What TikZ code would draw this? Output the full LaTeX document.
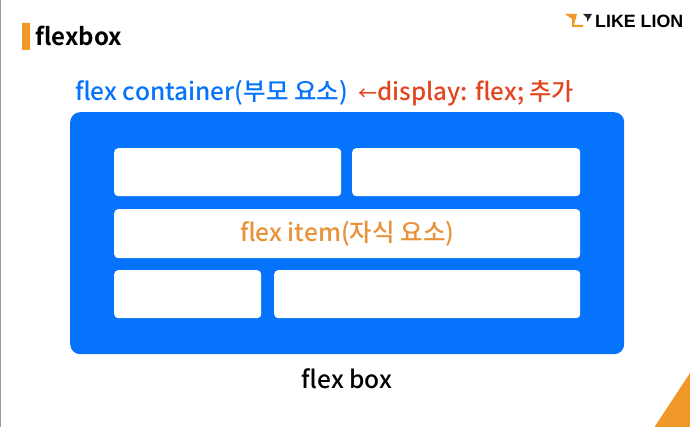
\documentclass[tikz,border=0pt]{standalone}
\usepackage{fontspec}
\setmainfont{Noto Sans CJK KR}[BoldFont={Noto Sans CJK KR Bold}]
\setsansfont{Liberation Sans}
\newfontfamily\mediumfont{Noto Sans CJK KR Medium}
\definecolor{flexblue}{HTML}{0573FC}
\definecolor{flexorange}{HTML}{F0982A}
\definecolor{flexred}{HTML}{E2451F}
\definecolor{itemorange}{HTML}{E8933A}
\tikzset{
  itembox/.style={shape=rectangle,rounded corners=4pt,fill=white,inner sep=0pt,anchor=north west},
  caption/.style={inner sep=0pt,font=\fontsize{24.5}{24.5}\selectfont\mediumfont,anchor=base west}
}
\begin{document}
\begin{tikzpicture}[x=1pt,y=-1pt]
  \useasboundingbox (0,0) rectangle (690,427);
  \fill[gray!80] (0,0) rectangle (1,427);
  \fill[flexorange,rounded corners=0.5pt] (22,23) rectangle (30,50);
  \node[caption,font=\fontsize{24}{24}\selectfont\bfseries] (title) at (35,45.5) {flexbox};
  % logo
  \fill[flexorange] (565,14) -- (577,14) -- (574,25) -- (583,25) -- (583,27) -- (572,27) -- (572,19) -- cycle;
  \fill[black!85] (583,14) -- (592,14) -- (587,22) -- (587,18) -- cycle;
  \node[caption,font=\fontsize{17.8}{18}\selectfont\sffamily\bfseries] (logo) at (595,28) {LIKE LION};
  % labels over the container
  \node[caption,text=flexblue] (parent) at (75,101) {flex container(부모 요소)};
  \node[caption,text=flexred,font=\fontsize{24.2}{24.2}\selectfont\mediumfont] (display) at (358,101) {{\fontsize{19}{19}\selectfont ←}display: flex; 추가};
  % container and items
  \node[itembox,fill=flexblue,rounded corners=10pt,minimum width=554pt,minimum height=242pt] (container) at (70,112) {};
  \foreach \name/\xa/\ya/\w/\h in {one/114/148/227/48,two/352/148/228/48,three/114/209/466/49,four/114/270/147/48,five/274/270/306/48}{
    \node[itembox,minimum width=\w pt,minimum height=\h pt] (\name) at (\xa,\ya) {};
  }
  \node[inner sep=0pt,text=itemorange,font=\fontsize{24.5}{24.5}\selectfont\mediumfont] (child) at (three.center) {flex item(자식 요소)};
  \node[caption,text=black,anchor=base] (box) at (347,388) {flex box};
  % corner
  \fill[flexorange] (654.5,427) -- (690,373) -- (690,427) -- cycle;
\end{tikzpicture}
\end{document}
